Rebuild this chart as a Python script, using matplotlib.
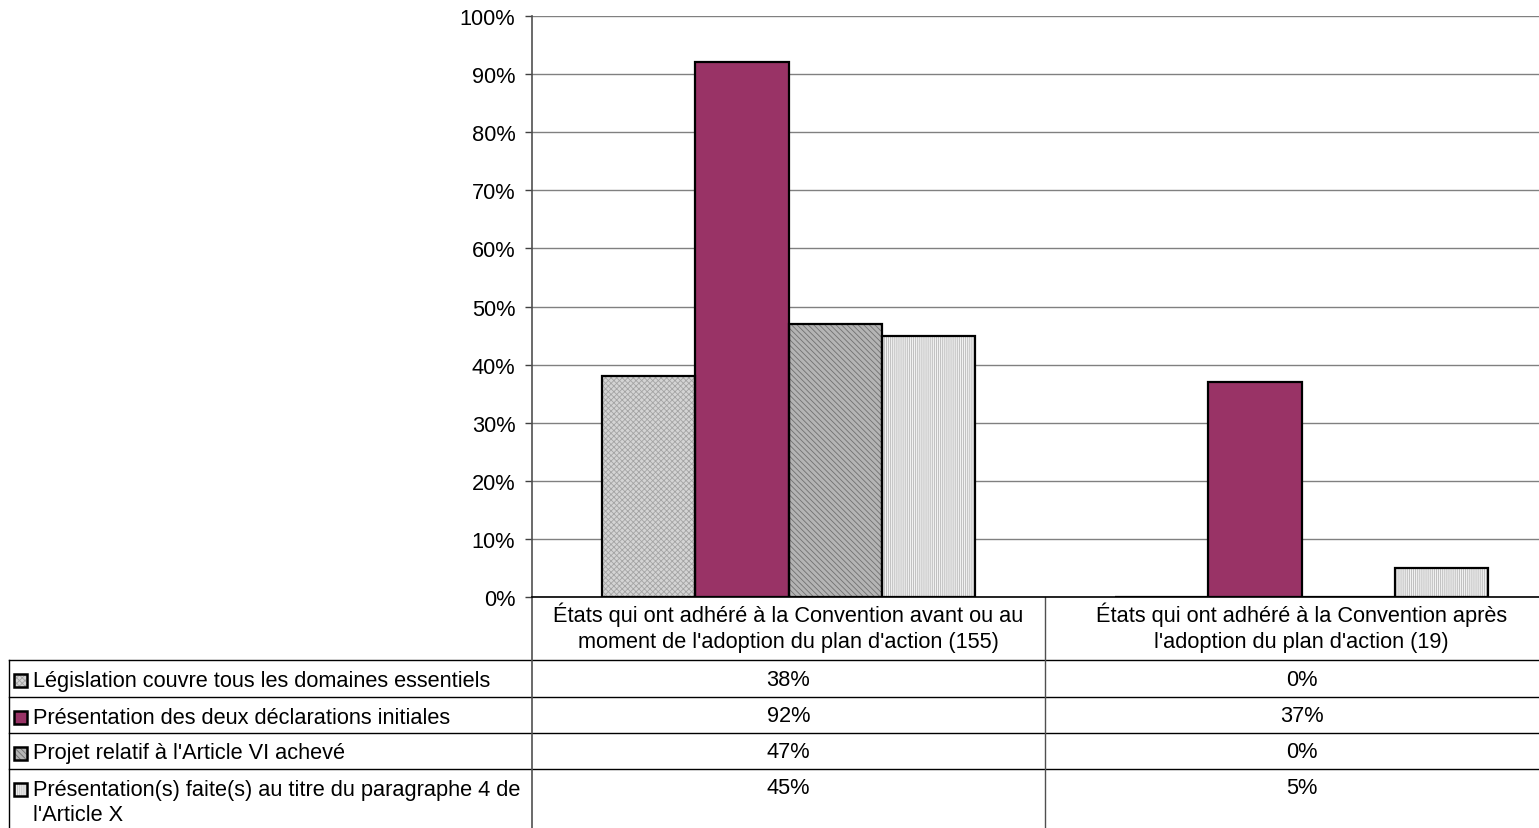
import matplotlib
matplotlib.use("Agg")
import matplotlib.pyplot as plt
from matplotlib.patches import Rectangle
from matplotlib.lines import Line2D
from matplotlib.transforms import blended_transform_factory
import numpy as np

plt.rcParams['font.family'] = ['Liberation Sans', 'DejaVu Sans']
plt.rcParams['hatch.linewidth'] = 0.6

# ---- data ----
categories = [
    "États qui ont adhéré à la Convention avant ou au\nmoment de l'adoption du plan d'action (155)",
    "États qui ont adhéré à la Convention après\nl'adoption du plan d'action (19)",
]
series_names = [
    "Législation couvre tous les domaines essentiels",
    "Présentation des deux déclarations initiales",
    "Projet relatif à l'Article VI achevé",
    "Présentation(s) faite(s) au titre du paragraphe 4 de\nl'Article X",
]
legislation = [38, 0]
declarations = [92, 37]
article_vi = [47, 0]
article_x = [45, 5]
series_values = [legislation, declarations, article_vi, article_x]
y_ticks = [0, 10, 20, 30, 40, 50, 60, 70, 80, 90, 100]

# ---- styles ----
styles = [
    dict(face='#d4d4d4', hatch='xxxxxx', hcol='#a4a4a4'),
    dict(face='#993366', hatch=None, hcol='#993366'),
    dict(face='#b4b4b4', hatch='\\\\\\\\\\\\', hcol='#707070'),
    dict(face='#f2f2f2', hatch='||||||||', hcol='#b8b8b8'),
]

W, H = 1539, 829
fig = plt.figure(figsize=(W / 100, H / 100), dpi=100)
fs = 15.7

# chart axes (plot area runs slightly past the right edge of the figure)
ax = fig.add_axes([532 / W, 1 - 598 / H, (1558 - 532) / W, (598 - 17) / H])
x = np.arange(len(categories))
bw = 0.182
offsets = (np.arange(4) - 1.5) * bw
for vals, off, st in zip(series_values, offsets, styles):
    ax.bar(x + off, vals, bw, color=st['face'], edgecolor=st['hcol'],
           hatch=st['hatch'], linewidth=0, zorder=3)
    ax.bar(x + off, vals, bw, fill=False, edgecolor='black',
           linewidth=1.6, zorder=4)

ax.set_xlim(-0.5, len(categories) - 0.5)
ax.set_ylim(0, 100)
ax.set_yticks(y_ticks)
ax.set_yticklabels([f"{t}%" for t in y_ticks], fontsize=fs)
ax.set_xticks([])
ax.tick_params(axis='y', length=5, width=1, direction='out', pad=7, color='#404040')
ax.grid(axis='y', color='#808080', linewidth=1, zorder=0)
for s in ('top', 'right'):
    ax.spines[s].set_visible(False)
ax.spines['left'].set_color('#505050')
ax.spines['left'].set_linewidth(1.2)
ax.spines['bottom'].set_color('black')
ax.spines['bottom'].set_linewidth(1.2)

# overlay in pixel coordinates for the data table
tab = fig.add_axes([0, 0, 1, 1], zorder=-1)
tab.set_xlim(0, W)
tab.set_ylim(H, 0)
tab.axis('off')
tr = blended_transform_factory(ax.transData, tab.transData)

# category header labels
for xi, cat in zip(x, categories):
    tab.text(xi, 628, cat, transform=tr, ha='center', va='center',
             fontsize=fs, linespacing=1.33)

# table grid
row_lines = [661, 698, 734, 770]
for yl in row_lines:
    tab.add_line(Line2D([9, W], [yl, yl], color='black', lw=1))
tab.add_line(Line2D([9, 9], [661, H], color='black', lw=1))
tab.add_line(Line2D([-0.5, -0.5], [598, H], transform=tr, color='#505050', lw=1.2))
tab.add_line(Line2D([0.5, 0.5], [598, H], transform=tr, color='#505050', lw=1))

row_text_y = [681, 718, 754, 790]
for i, (name, vals, st) in enumerate(zip(series_names, series_values, styles)):
    yc = row_text_y[i]
    # legend key
    tab.add_patch(Rectangle((14, yc - 6), 13, 13, facecolor=st['face'],
                            edgecolor=st['hcol'], hatch=st['hatch'], lw=0))
    tab.add_patch(Rectangle((14, yc - 6), 13, 13, fill=False,
                            edgecolor='black', lw=1.8))
    if '\n' in name:
        tab.text(33, yc - 10, name, ha='left', va='top', fontsize=fs,
                 linespacing=1.25)
    else:
        tab.text(33, yc, name, ha='left', va='center', fontsize=fs)
    for xi, v in zip(x, vals):
        tab.text(xi, yc - 1, f"{v}%", transform=tr, ha='center',
                 va='center', fontsize=fs)

fig.savefig('out.png', dpi=100)
